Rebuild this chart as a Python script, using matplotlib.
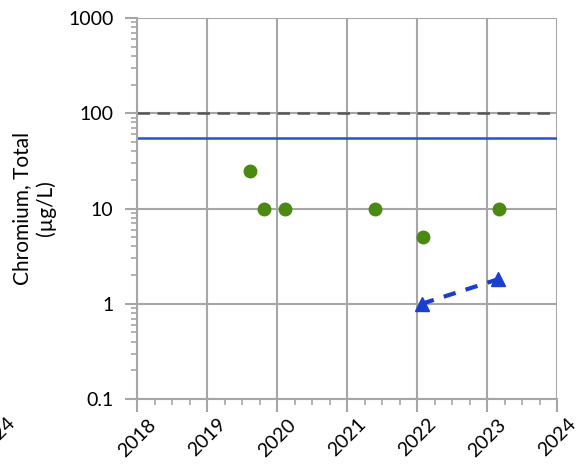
import matplotlib
matplotlib.use("Agg")
import matplotlib.pyplot as plt
from matplotlib.ticker import FixedLocator, LogLocator, NullFormatter

# detected results (decimal year, ug/L)
det_years = [2019.61, 2019.81, 2020.11, 2021.40, 2022.09, 2023.17]
det_vals = [25, 10, 10, 10, 5, 10]

# non-detect / trend series
nd_years = [2022.07, 2023.15]
nd_vals = [1.0, 1.8]

# reference levels
mcl = 100
screen = 55

year_ticks = [2018, 2019, 2020, 2021, 2022, 2023, 2024]
y_ticks = [0.1, 1, 10, 100, 1000]
y_labels = ["0.1", "1", "10", "100", "1000"]

plt.rcParams['font.family'] = ['Lato', 'DejaVu Sans']

W, H = 577, 466
fig = plt.figure(figsize=(W / 100, H / 100), dpi=100)
ax = fig.add_axes([137 / W, 1 - 399 / H, 420 / W, 381 / H])

grid_c = '#a6a6a6'
ax.set_yscale('log')
ax.set_xlim(2018, 2024)
ax.set_ylim(0.1, 1000)

ax.xaxis.set_major_locator(FixedLocator(year_ticks))
ax.xaxis.set_minor_locator(FixedLocator([y + q / 4 for y in year_ticks[:-1] for q in (1, 2, 3)]))
ax.set_xticklabels([str(y) for y in year_ticks], rotation=45, ha='center')
ax.yaxis.set_major_locator(FixedLocator(y_ticks))
ax.set_yticklabels(y_labels)
ax.yaxis.set_minor_locator(LogLocator(base=10, subs=range(2, 10)))
ax.yaxis.set_minor_formatter(NullFormatter())

ax.grid(True, which='major', color=grid_c, linewidth=1.5)
ax.set_axisbelow(True)
for s in ax.spines.values():
    s.set_color(grid_c)
    s.set_linewidth(1.5)
ax.spines['top'].set_visible(False)
ax.spines['right'].set_visible(False)

ax.tick_params(which='major', length=9, width=1.5, color=grid_c, labelsize=14, labelcolor='black')
ax.tick_params(which='minor', length=4, width=1.2, color=grid_c)
ax.tick_params(axis='y', which='major', pad=8)
ax.tick_params(axis='x', which='major', pad=3)

ax.axhline(mcl, color='#555555', linestyle=(0, (5, 3)), linewidth=1.8, zorder=2)
ax.axhline(screen, color='#2a4fd6', linewidth=1.8, zorder=2)

ax.plot(det_years, det_vals, 'o', color='#4a8a10', markersize=9, zorder=4, clip_on=False)
ax.plot(nd_years, nd_vals, '--', color='#1a3fd0', linewidth=3, dashes=(3, 2.5), zorder=3)
ax.plot(nd_years, nd_vals, '^', color='#1a3fd0', markersize=10, zorder=4)

fig.text(34 / W, 1 - 208 / H, "Chromium, Total\n(µg/L)", rotation=90, fontsize=15,
         ha='center', va='center', multialignment='center')

# clipped tick label from neighbouring chart
fig.text(-4 / W, 1 - 414 / H, "2024", rotation=45, fontsize=14, ha='center', va='top')

fig.savefig("out.png", dpi=100)
